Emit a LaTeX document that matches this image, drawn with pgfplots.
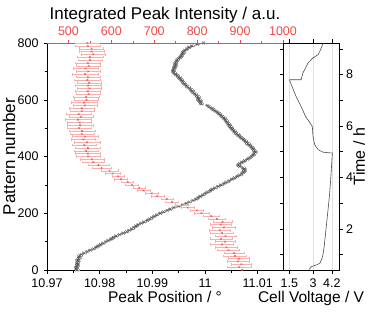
\documentclass[border=0pt]{standalone}
\usepackage{pgfplots}
\usepackage{pgfplotstable}
\usepackage{fontspec}
\setmainfont{Liberation Sans}
\pgfplotsset{compat=1.18}
\definecolor{myred}{RGB}{245,70,70}
\definecolor{mypink}{RGB}{250,175,175}
\definecolor{mygray}{RGB}{80,80,80}
\definecolor{mylgray}{RGB}{170,170,170}

\pgfplotstableread{
pat pos err
0 10.9757 0.0004
5 10.9755 0.0004
10 10.9756 0.0004
15 10.9757 0.0004
20 10.9758 0.0004
25 10.9757 0.0004
30 10.9759 0.0004
35 10.9758 0.0004
40 10.9760 0.0004
45 10.9761 0.0004
50 10.9762 0.0004
55 10.9765 0.0004
60 10.9770 0.0004
65 10.9776 0.0004
70 10.9782 0.0004
75 10.9788 0.0004
80 10.9793 0.0004
85 10.9797 0.0004
90 10.9802 0.0004
95 10.9807 0.0004
100 10.9812 0.0004
105 10.9817 0.0004
110 10.9822 0.0004
115 10.9826 0.0004
120 10.9831 0.0004
125 10.9838 0.0004
130 10.9845 0.0004
135 10.9851 0.0004
140 10.9856 0.0004
145 10.9861 0.0004
150 10.9865 0.0004
155 10.9869 0.0004
160 10.9873 0.0004
165 10.9879 0.0004
170 10.9884 0.0004
175 10.9890 0.0004
180 10.9895 0.0004
185 10.9899 0.0004
190 10.9904 0.0004
195 10.9909 0.0004
200 10.9915 0.0004
205 10.9921 0.0004
210 10.9928 0.0004
215 10.9934 0.0004
220 10.9941 0.0004
225 10.9950 0.0004
230 10.9958 0.0004
235 10.9964 0.0004
240 10.9970 0.0004
245 10.9977 0.0004
250 10.9983 0.0004
255 10.9987 0.0004
260 10.9991 0.0004
265 10.9996 0.0004
270 11.0000 0.0004
275 11.0005 0.0004
280 11.0010 0.0004
285 11.0014 0.0004
290 11.0019 0.0004
295 11.0025 0.0004
300 11.0030 0.0004
305 11.0036 0.0004
310 11.0041 0.0004
315 11.0046 0.0004
320 11.0051 0.0004
325 11.0056 0.0004
330 11.0061 0.0004
335 11.0066 0.0004
340 11.0070 0.0004
345 11.0073 0.0004
350 11.0075 0.0004
355 11.0074 0.0004
360 11.0072 0.0004
365 11.0066 0.0004
370 11.0063 0.0004
375 11.0066 0.0004
380 11.0070 0.0004
385 11.0075 0.0004
390 11.0080 0.0004
395 11.0084 0.0004
400 11.0088 0.0004
405 11.0091 0.0004
410 11.0093 0.0004
415 11.0095 0.0004
420 11.0094 0.0004
425 11.0092 0.0004
430 11.0090 0.0004
435 11.0087 0.0004
440 11.0084 0.0004
445 11.0081 0.0004
450 11.0079 0.0004
455 11.0076 0.0004
460 11.0073 0.0004
465 11.0069 0.0004
470 11.0066 0.0004
475 11.0063 0.0004
480 11.0060 0.0004
485 11.0057 0.0004
490 11.0055 0.0004
495 11.0052 0.0004
500 11.0050 0.0004
505 11.0048 0.0004
510 11.0046 0.0004
515 11.0044 0.0004
520 11.0042 0.0004
525 11.0040 0.0004
530 11.0038 0.0004
535 11.0036 0.0004
540 11.0033 0.0004
545 11.0030 0.0004
550 11.0027 0.0004
555 11.0024 0.0004
560 11.0020 0.0004
565 11.0016 0.0004
570 11.0012 0.0004
575 11.0008 0.0004
580 11.0004 0.0004
585 10.9993 0.0004
590 10.9991 0.0004
595 10.9990 0.0004
600 10.9988 0.0004
605 10.9987 0.0004
610 10.9986 0.0004
615 10.9984 0.0004
620 10.9981 0.0004
625 10.9978 0.0004
630 10.9975 0.0004
635 10.9973 0.0004
640 10.9971 0.0004
645 10.9967 0.0004
650 10.9964 0.0004
655 10.9961 0.0004
660 10.9959 0.0004
665 10.9957 0.0004
670 10.9955 0.0004
675 10.9952 0.0004
680 10.9950 0.0004
685 10.9947 0.0004
690 10.9944 0.0004
695 10.9941 0.0004
700 10.9939 0.0004
705 10.9940 0.0004
710 10.9941 0.0004
715 10.9942 0.0004
720 10.9943 0.0004
725 10.9944 0.0004
730 10.9944 0.0004
735 10.9946 0.0004
740 10.9947 0.0004
745 10.9950 0.0004
750 10.9953 0.0004
755 10.9955 0.0004
760 10.9956 0.0004
765 10.9958 0.0004
770 10.9959 0.0004
775 10.9962 0.0004
780 10.9966 0.0004
785 10.9970 0.0004
790 10.9975 0.0004
795 10.9985 0.0004
800 10.9997 0.0004
}\graydata

\pgfplotstableread{
pat int err
0 905 25
10 898 28
20 903 24
30 895 26
40 897 25
50 888 27
60 886 24
70 873 26
80 868 25
90 858 27
100 865 24
110 856 26
120 866 25
130 858 27
140 853 24
150 862 26
160 855 25
170 859 22
180 846 20
190 833 18
200 810 18
210 799 16
220 778 15
230 764 15
240 741 15
250 729 14
260 707 15
270 694 14
280 675 15
290 665 14
300 648 15
310 638 14
320 622 15
330 616 14
340 603 18
350 596 20
360 577 22
370 570 25
380 558 25
390 555 28
400 546 28
410 545 30
420 541 28
430 545 30
440 537 28
450 543 30
460 535 28
470 539 30
480 531 28
490 532 30
500 525 28
510 527 30
520 526 28
530 522 30
540 529 28
550 524 30
560 531 28
570 531 30
580 538 28
590 536 30
600 542 28
610 541 30
620 547 28
630 545 30
640 549 28
650 546 30
660 548 28
670 544 30
680 545 28
690 539 30
700 546 28
710 540 30
720 547 28
730 545 30
740 550 28
750 550 30
760 558 28
770 554 30
780 554 28
790 545 30
800 544 28
}\reddata

\pgfplotstableread{
V t
2.75 0.42
2.90 0.53
3.22 0.60
3.44 0.66
3.61 0.92
3.71 1.31
3.82 1.96
3.93 2.60
4.04 3.26
4.12 3.90
4.19 4.56
4.23 4.95
3.65 4.98
3.33 5.08
3.11 5.27
3.00 5.60
2.96 5.98
2.75 6.18
2.53 6.37
2.25 6.76
1.93 7.15
1.67 7.54
1.54 7.74
1.52 7.80
2.25 7.80
2.35 8.05
2.47 8.19
2.68 8.45
3.00 8.65
3.33 8.78
3.44 8.91
3.65 9.23
}\voltdata

\pgfplotsset{
  every axis/.append style={
    scale only axis,
    height=227pt,
    tick align=outside,
    major tick length=3.5pt,
    minor tick length=2.5pt,
    /pgf/number format/assume math mode=true,
    /pgf/number format/1000 sep={},
    tick label style={font=\fontsize{12.5}{14}\selectfont},
    label style={font=\fontsize{15.5}{17}\selectfont},
    every tick/.style={black, line width=0.5pt},
    axis line style={line width=0.7pt},
  }
}

\begin{document}
\begin{tikzpicture}
% main axis: peak position vs pattern
\begin{axis}[
  width=236pt,
  xmin=10.97, xmax=11.0148,
  ymin=0, ymax=800,
  axis x line*=bottom, axis y line*=left,
  xtick={10.97,10.98,10.99,11,11.01},
  minor x tick num=1,
  ytick={0,200,400,600,800},
  minor y tick num=1,
  scaled x ticks=false,
  xticklabel style={/pgf/number format/.cd, fixed, precision=2},
  yticklabel shift=1.5pt,
  xticklabel shift=2pt,
  xlabel={Peak Position / \textdegree},
  ylabel={Pattern number},
  ylabel style={font=\fontsize{17}{19}\selectfont},
  xlabel shift=-3pt,
  ylabel shift=-4.5pt,
]
\addplot[mygray, mark=x, mark size=2pt, only marks, line width=0.45pt,
  error bars/.cd, x dir=both, x explicit,
  error bar style={mylgray, line width=0.3pt},
  error mark options={rotate=90, mylgray, mark size=0.8pt}]
  table[x=pos, y=pat, x error=err] {\graydata};
\end{axis}
% top axis: integrated intensity
\begin{axis}[
  width=236pt,
  xmin=450, xmax=1000,
  ymin=0, ymax=800,
  axis x line*=top, axis y line=none,
  x axis line style={myred},
  xtick={500,600,700,800,900,1000},
  minor x tick num=1,
  every tick/.style={myred, line width=0.5pt},
  xticklabel style={myred},
  xlabel={Integrated Peak Intensity / a.u.},
  xlabel style={font=\fontsize{17}{19}\selectfont},
  xlabel shift=-3pt,
]
\addplot[myred, mark=x, mark size=1.2pt, only marks, line width=0.4pt,
  error bars/.cd, x dir=both, x explicit,
  error bar style={mypink, line width=0.35pt},
  error mark options={rotate=90, mypink, mark size=1.3pt}]
  table[x=int, y=pat, x error=err] {\reddata};
\end{axis}
% right panel: cell voltage vs time
\begin{axis}[
  at={(236pt,0)},
  width=56pt,
  xmin=1.1, xmax=4.65,
  ymin=0.40, ymax=9.23,
  xtick={1.5,3,4.2},
  xticklabels={1.5,3,4.2},
  ytick={2,4,6,8},
  minor ytick={1,3,5,7,9},
  minor tick length=3.5pt,
  yticklabel pos=right,
  ytick pos=both,
  xtick pos=both,
  xmajorgrids,
  grid style={black!12, line width=0.5pt},
  xticklabel shift=2pt,
  yticklabel shift=0pt,
  xlabel={Cell Voltage / V},
  ylabel={Time / h},
  ylabel style={font=\fontsize{16}{18}\selectfont},
  xlabel shift=-3pt,
  ylabel shift=-6.5pt,
]
\addplot[black!70, line width=0.6pt] table[x=V, y=t] {\voltdata};
\end{axis}
\pgfresetboundingbox
\path (-47pt,-45pt) rectangle (324pt,270pt);
\end{tikzpicture}
\end{document}
